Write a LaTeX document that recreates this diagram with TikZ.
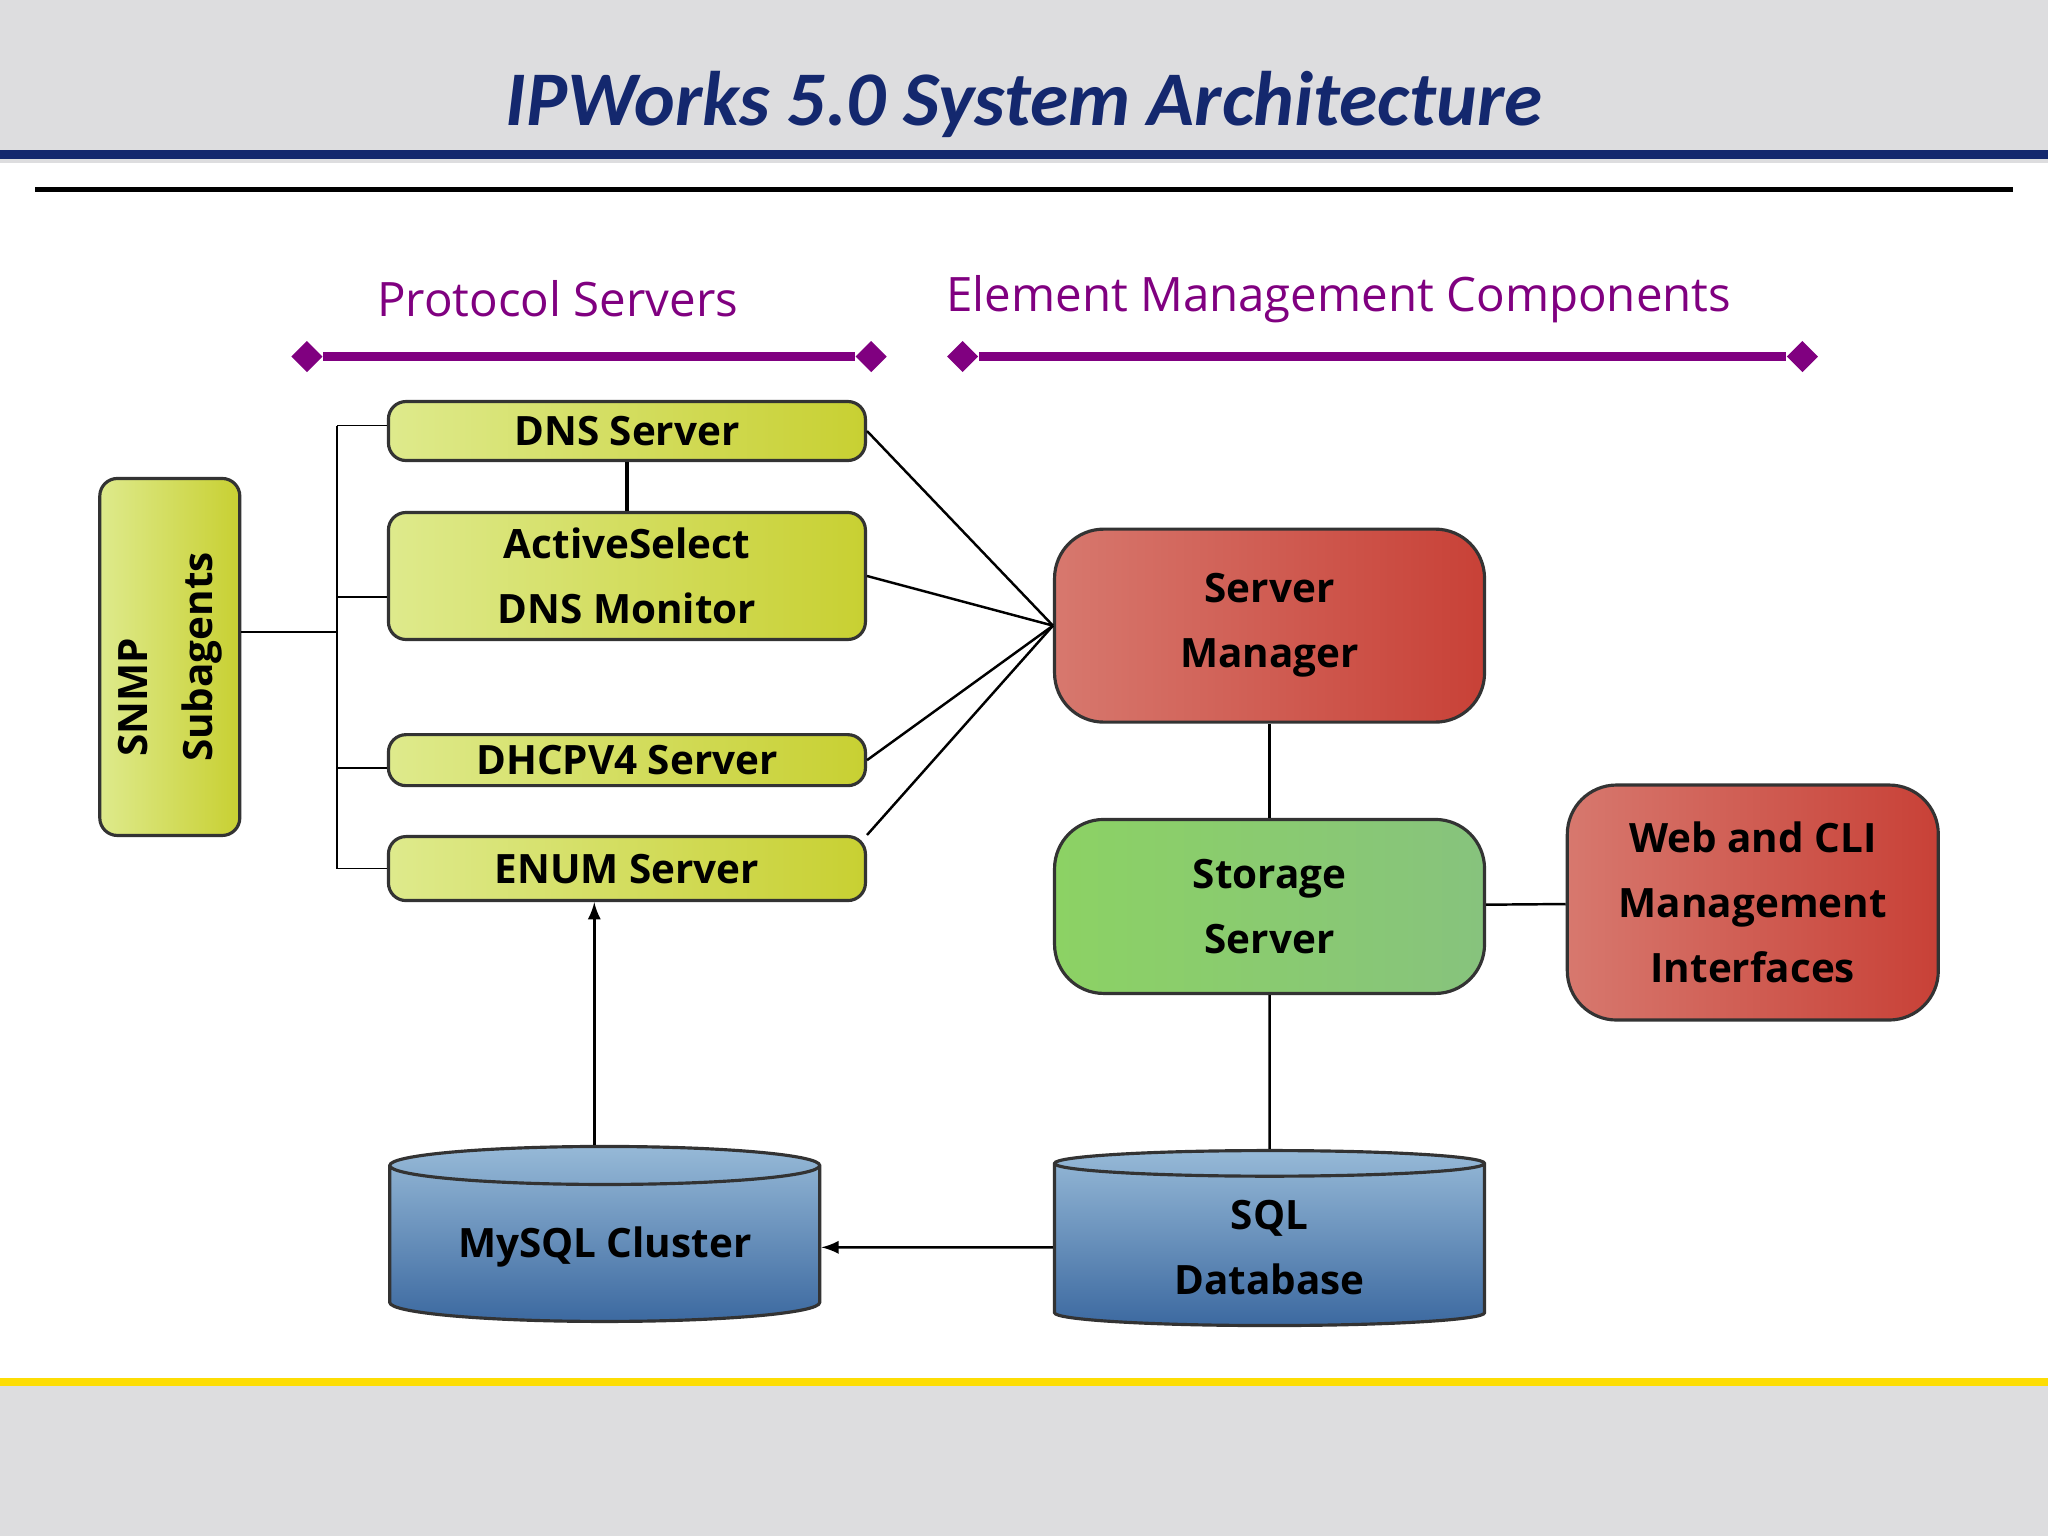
\documentclass[tikz,border=0pt]{standalone}
\usepackage{fontspec}
\setmainfont{Open Sans}
\newfontfamily\titlefont{Carlito}
\usetikzlibrary{shapes.geometric}
\definecolor{bandgray}{RGB}{221,221,223}
\definecolor{bandblue}{RGB}{20,40,110}
\definecolor{barpurple}{RGB}{128,0,128}
\definecolor{limel}{RGB}{222,234,140}
\definecolor{limed}{RGB}{200,208,50}
\definecolor{redl}{RGB}{215,120,110}
\definecolor{redd}{RGB}{200,65,55}
\definecolor{greenl}{RGB}{140,210,100}
\definecolor{greend}{RGB}{135,195,125}
\definecolor{bluel}{RGB}{150,185,215}
\definecolor{blued}{RGB}{60,105,160}
\tikzset{
  box/.style={draw=black!80, line width=0.9pt, rounded corners=5pt, align=center, font=\bfseries\fontsize{11.5}{18.5}\selectfont},
  lime/.style={box, left color=limel, right color=limed},
  redbox/.style={box, rounded corners=14pt, left color=redl, right color=redd},
  greenbox/.style={box, rounded corners=14pt, left color=greenl, right color=greend},
  db/.style={cylinder, shape border rotate=90, aspect=0.12, draw=black!80, line width=0.9pt, align=center,
    top color=bluel, bottom color=blued, font=\bfseries\fontsize{11.5}{18.5}\selectfont, minimum width=4.3cm, minimum height=1.75cm},
  wire/.style={line width=0.7pt},
  bar/.style={barpurple, line width=2.5pt},
  dmd/.style={diamond, fill=barpurple, inner sep=0pt, minimum size=9pt},
}
\begin{document}
\begin{tikzpicture}[x=0.01306cm, y=-0.01306cm]
	% background and bands
	\fill[bandgray] (0,0) rectangle (1568,1176);
	\fill[white] (0,125) rectangle (1568,1058);
	\fill[bandblue] (0,115) rectangle (1568,122);
	\draw[line width=1.5pt] (27,145) -- (1541,145);
	\fill[yellow!80!orange] (0,1055) rectangle (1568,1061);
	\node[font=\titlefont\bfseries\itshape\fontsize{22}{26}\selectfont, text=bandblue] (title) at (784,80) {IPWorks 5.0 System Architecture};
	% headings
	\node[text=barpurple, font=\fontsize{13.5}{16}\selectfont] (hproto) at (427,229) {Protocol Servers};
	\node[text=barpurple, font=\fontsize{13.5}{16}\selectfont] (helem) at (1025,229) {Element Management Components};
	\node[dmd] (p1) at (235,273) {}; \node[dmd] (p2) at (667,273) {};
	\node[dmd] (e1) at (737,273) {}; \node[dmd] (e2) at (1380,273) {};
	\draw[bar] (p1) -- (p2);
	\draw[bar] (e1) -- (e2);
	% boxes
	\node[lime, minimum width=1.4cm, minimum height=3.57cm] (snmp) at (130,503) {};
	\node[rotate=90, align=center, font=\bfseries\fontsize{11.5}{18.5}\selectfont] (snmpt) at (130,503) {SNMP\qquad\qquad\\ Subagents};
	\node[lime, minimum width=4.77cm, minimum height=0.59cm, inner sep=0pt] (dns) at (480,330) {DNS Server};
	\node[lime, minimum width=4.77cm, minimum height=1.27cm] (asel) at (480,441) {ActiveSelect\\DNS Monitor};
	\node[lime, minimum width=4.77cm, minimum height=0.51cm, inner sep=0pt] (dhcp) at (480,582) {DHCPV4 Server};
	\node[lime, minimum width=4.77cm, minimum height=0.64cm, inner sep=0pt] (enum) at (480,665) {ENUM Server};
	\node[redbox, minimum width=4.3cm, minimum height=1.93cm] (mgr) at (972,479) {Server\\Manager};
	\node[greenbox, minimum width=4.3cm, minimum height=1.74cm] (stor) at (972,694) {Storage\\Server};
	\node[redbox, minimum width=3.71cm, minimum height=2.35cm] (web) at (1342,691) {Web and CLI\\Management\\Interfaces};
	\node[db] (mysql) at (463,955) {MySQL Cluster};
	\node[db] (sql) at (972,955) {SQL\\Database};
	% bus
	\coordinate (b1) at (258,326); \coordinate (b2) at (258,457);
	\coordinate (b3) at (258,588); \coordinate (b4) at (258,665);
	\coordinate (b0) at (258,484);
	\draw (b1) -- (b4);
	\draw (b1) -- (b1 -| dns.west);
	\draw (b2) -- (b2 -| asel.west);
	\draw (b3) -- (b3 -| dhcp.west);
	\draw (b4) -- (b4 -| enum.west);
	\draw (snmp.east |- b0) -- (b0);
	% connectors
	\draw[line width=1.2pt] (dns.south) -- (asel.north);
	\draw[wire] (dns.east) -- (mgr.west);
	\draw[wire] (asel.east) -- (mgr.west);
	\draw[wire] (dhcp.east) -- (mgr.west);
	\draw[wire] (enum.north east) -- (mgr.west);
	\draw[wire] (mgr) -- (stor);
	\draw[wire] (stor) -- (sql);
	\draw[wire] (stor) -- (web);
	\draw[wire, -latex] (mysql.north -| 455,0) -- (enum.south -| 455,0);
	\draw[wire, -latex] (sql.west) -- (mysql.east);
\end{tikzpicture}
\end{document}
